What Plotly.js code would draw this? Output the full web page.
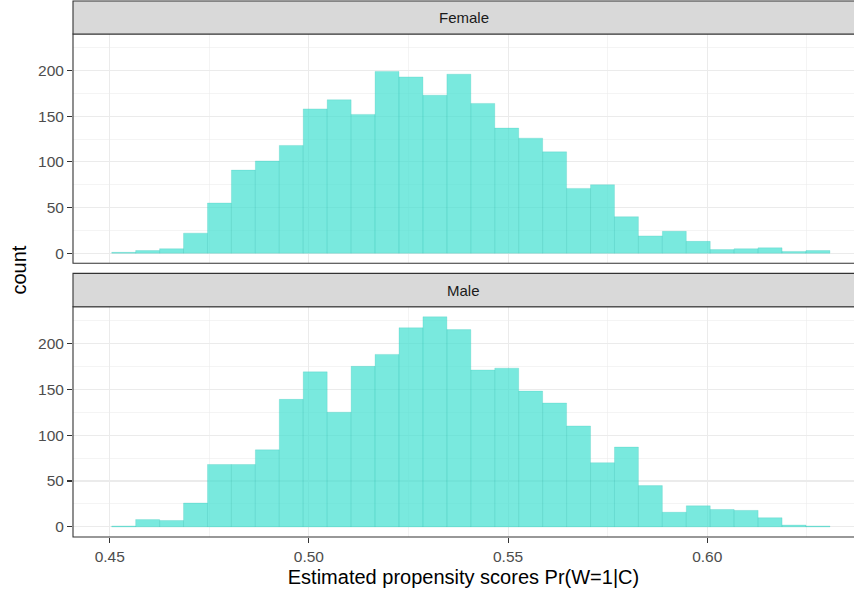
<!DOCTYPE html>
<html>
<head>
<meta charset="utf-8">
<script src="https://cdn.plot.ly/plotly-3.0.1.min.js"></script>
<style>
  html, body { margin: 0; padding: 0; background: #ffffff; }
  #chart { width: 854px; height: 592px; }
</style>
</head>
<body>
<div id="chart"></div>
<script>
// Histogram of estimated propensity scores, one facet per sex (30 bins).
const binStart = 0.4505;
const binWidth = 0.00601;

const femaleCounts = [1, 3, 5, 22, 55, 91, 101, 118, 158, 168, 152, 199, 193, 173, 196,
                      164, 137, 126, 111, 71, 75, 40, 19, 24, 13, 4, 5, 6, 2, 3];
const maleCounts   = [1, 8, 7, 26, 68, 68, 84, 139, 169, 125, 175, 188, 217, 229, 215,
                      171, 173, 148, 135, 110, 70, 87, 45, 16, 23, 19, 18, 10, 2, 1];

const facetLabels = ["Female", "Male"];
const xTickVals = [0.45, 0.50, 0.55, 0.60];
const xTickText = ["0.45", "0.50", "0.55", "0.60"];
const yTickVals = [0, 50, 100, 150, 200];
const yTickText = ["0", "50", "100", "150", "200"];

const binCenters = femaleCounts.map((_, i) => binStart + (i + 0.5) * binWidth);

const fillColor = "rgba(64,224,208,0.7)";
const edgeColor = "rgba(40,190,175,0.35)";

function histTrace(counts, xa, ya) {
  return {
    type: "bar",
    x: binCenters,
    y: counts,
    width: binWidth,
    xaxis: xa,
    yaxis: ya,
    marker: { color: fillColor, line: { color: edgeColor, width: 0.6 } },
    hoverinfo: "x+y",
    showlegend: false
  };
}

const gridCol = "#EBEBEB";
const borderCol = "#333333";
const tickFont = { family: "Liberation Sans, Arial, sans-serif", size: 15.5, color: "#4D4D4D" };

const xRange = [0.44078, 0.63684];
const yRange = [-11, 240];

function xAxis(extra) {
  return Object.assign({
    range: xRange,
    showgrid: true, gridcolor: gridCol, gridwidth: 1.1,
    minor: { dtick: 0.025, tick0: 0.45, showgrid: true, gridcolor: gridCol, gridwidth: 0.55 },
    zeroline: false,
    tickvals: xTickVals, ticktext: xTickText,
    fixedrange: true
  }, extra);
}
function yAxis(extra) {
  return Object.assign({
    range: yRange,
    showgrid: true, gridcolor: gridCol, gridwidth: 1.1,
    minor: { dtick: 25, tick0: 0, showgrid: true, gridcolor: gridCol, gridwidth: 0.55 },
    zeroline: false,
    tickvals: yTickVals, ticktext: yTickText,
    ticks: "outside", ticklen: 5, tickwidth: 1.1, tickcolor: borderCol,
    tickfont: tickFont,
    fixedrange: true
  }, extra);
}

// Paper coordinates for panels and their strips (plot area spans 0..537px from top)
const femaleDomain = [0.5097, 0.9367];
const femaleStrip  = [0.9367, 0.998];
const maleDomain   = [0, 0.4289];
const maleStrip    = [0.4289, 0.491];

function strip(y0, y1) {
  return {
    type: "rect", xref: "paper", yref: "paper",
    x0: 0, x1: 1.01, y0: y0, y1: y1,
    fillcolor: "#D9D9D9", line: { color: borderCol, width: 1.1 }, layer: "above"
  };
}
function panelBorder(xa, ya) {
  return {
    type: "rect", xref: xa + " domain", yref: ya + " domain",
    x0: 0, x1: 1.01, y0: 0, y1: 1,
    fillcolor: "rgba(0,0,0,0)", line: { color: borderCol, width: 1.1 }, layer: "above"
  };
}

const layout = {
  width: 854, height: 592,
  margin: { l: 73, r: 0, t: 0, b: 55 },
  paper_bgcolor: "#ffffff",
  plot_bgcolor: "#ffffff",
  bargap: 0,
  font: { family: "Liberation Sans, Arial, sans-serif" },
  xaxis: xAxis({ anchor: "y", showticklabels: false, ticks: "" }),
  yaxis: yAxis({ domain: femaleDomain, anchor: "x" }),
  xaxis2: xAxis({
    anchor: "y2",
    ticks: "outside", ticklen: 5, tickwidth: 1.1, tickcolor: borderCol,
    tickfont: tickFont,
    title: { text: "Estimated propensity scores Pr(W=1|C)",
             font: { family: "Liberation Sans, Arial, sans-serif", size: 20, color: "#000000" },
             standoff: 6 }
  }),
  yaxis2: yAxis({ domain: maleDomain, anchor: "x2" }),
  shapes: [
    panelBorder("x", "y"),
    panelBorder("x2", "y2"),
    strip(femaleStrip[0], femaleStrip[1]),
    strip(maleStrip[0], maleStrip[1])
  ],
  annotations: [
    { text: facetLabels[0], xref: "paper", yref: "paper", x: 0.5, y: (femaleStrip[0] + femaleStrip[1]) / 2,
      xanchor: "center", yanchor: "middle", showarrow: false,
      font: { family: "Liberation Sans, Arial, sans-serif", size: 15, color: "#1A1A1A" } },
    { text: facetLabels[1], xref: "paper", yref: "paper", x: 0.5, y: (maleStrip[0] + maleStrip[1]) / 2,
      xanchor: "center", yanchor: "middle", showarrow: false,
      font: { family: "Liberation Sans, Arial, sans-serif", size: 15, color: "#1A1A1A" } },
    { text: "count", xref: "paper", yref: "paper", x: -0.0685, y: 0.497,
      xanchor: "center", yanchor: "middle", textangle: -90, showarrow: false,
      font: { family: "Liberation Sans, Arial, sans-serif", size: 20, color: "#000000" } }
  ]
};

Plotly.newPlot("chart", [
  histTrace(femaleCounts, "x", "y"),
  histTrace(maleCounts, "x2", "y2")
], layout, { displayModeBar: false, staticPlot: true });
</script>
</body>
</html>
